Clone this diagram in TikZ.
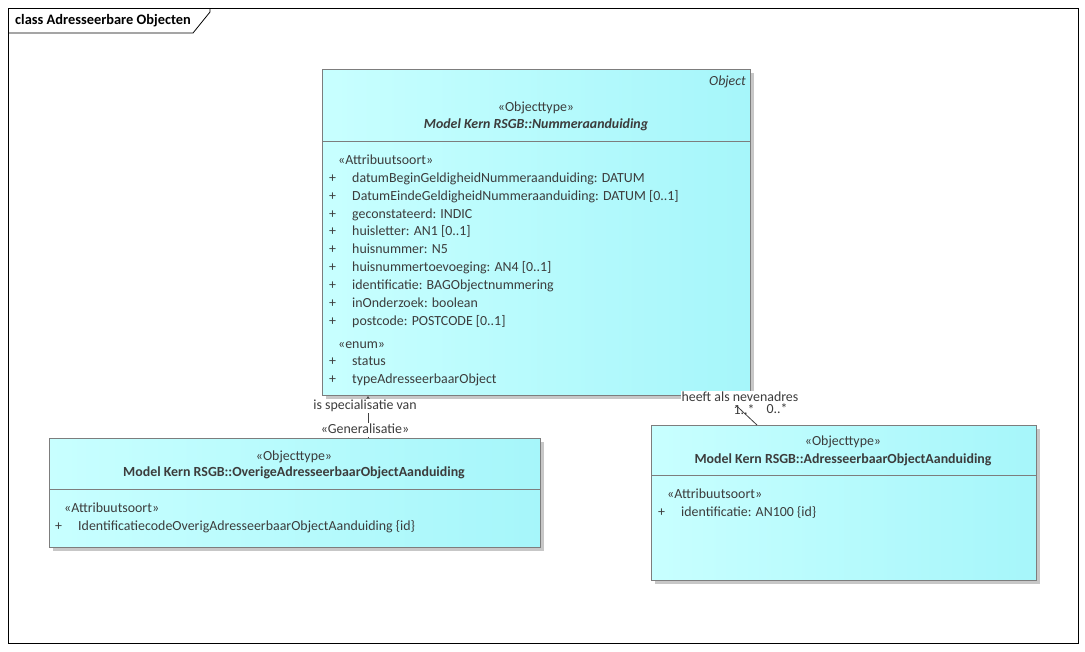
\documentclass[tikz,border=0pt]{standalone}
\usepackage{fontspec}
\setmainfont{Carlito}
\usetikzlibrary{arrows.meta,shadows}
\definecolor{boxL}{RGB}{200,255,255}
\definecolor{boxR}{RGB}{166,246,250}
\definecolor{bord}{RGB}{125,125,125}
\definecolor{txt}{RGB}{60,60,60}
\newcommand{\fs}{\fontsize{13.9}{16}\selectfont}
\tikzset{
  classbox/.style={rectangle, draw=bord, line width=1pt, left color=boxL, right color=boxR,
    inner sep=0pt, anchor=north west,
    drop shadow={shadow xshift=3pt, shadow yshift=-3pt, fill=black!40, opacity=0.55}},
  divline/.style={draw=bord, line width=1pt},
  lbl/.style={inner sep=0pt, text=txt, font=\fs, text height=9.5pt, text depth=3pt, yshift=-1.2pt},
  lw/.style={lbl, anchor=west},
  lc/.style={lbl, anchor=center},
  clabel/.style={inner sep=1pt, fill=white, text=txt, font=\fs, text height=9.5pt, text depth=2.5pt, yshift=-1pt},
  mult/.style={inner sep=0pt, text=txt, font=\fs, text height=7pt, text depth=0pt},
  conn/.style={draw=black!75, line width=0.8pt},
}
\begin{document}
\begin{tikzpicture}[x=1pt,y=-1pt]
\useasboundingbox (0,0) rectangle (1085,651);
\fill[white] (0,0) rectangle (1085,651);
% frame
\draw[line width=0.8pt] (8,8) rectangle (1078,643);
\draw[line width=0.8pt] (8,33) -- (193,33) -- (210,12) -- (210,8);
\node[lw, text=black, font=\fontsize{14.4}{16}\selectfont\bfseries] (title) at (15,20) {class Adresseerbare Objecten};

% Nummeraanduiding
\node[classbox, minimum width=428pt, minimum height=326pt] (num) at (322,69) {};
\draw[divline] (num.west |- 0,141) -- (num.east |- 0,141);
\node[lbl, anchor=east, font=\fs\itshape] (numo) at (746,81) {Object};
\node[lc] (nums) at (536,107) {«Objecttype»};
\node[lc, font=\fs\bfseries\itshape] (numn) at (536,124) {Model Kern RSGB::Nummeraanduiding};
\node[lw] (numa) at (338,160) {«Attribuutsoort»};
\foreach \y/\t in {178/datumBeginGeldigheidNummeraanduiding: DATUM,
  196/DatumEindeGeldigheidNummeraanduiding: DATUM [0..1],
  214/geconstateerd: INDIC,
  231/huisletter: AN1 [0..1],
  249/huisnummer: N5,
  267/huisnummertoevoeging: AN4 [0..1],
  285/identificatie: BAGObjectnummering,
  303/inOnderzoek: boolean,
  321/postcode: POSTCODE [0..1],
  361/status,
  379/typeAdresseerbaarObject}{
  \node[lw] at (329,\y) {+};
  \node[lw] at (352,\y) {\t};
}
\node[lw] (nume) at (338,344) {«enum»};

% Overige
\node[classbox, minimum width=491pt, minimum height=109pt] (ovr) at (49,438) {};
\draw[divline] (ovr.west |- 0,489) -- (ovr.east |- 0,489);
\node[lc] (ovrs) at (294,456) {«Objecttype»};
\node[lc, font=\fs\bfseries] (ovrn) at (294,472) {Model Kern RSGB::OverigeAdresseerbaarObjectAanduiding};
\node[lw] (ovra) at (64,508) {«Attribuutsoort»};
\node[lw] at (55,526) {+};
\node[lw] (ovr1) at (78,526) {IdentificatiecodeOverigAdresseerbaarObjectAanduiding {\{}id{\}}};

% AdresseerbaarObjectAanduiding
\node[classbox, minimum width=385pt, minimum height=155pt] (adr) at (651,425) {};
\draw[divline] (adr.west |- 0,475) -- (adr.east |- 0,475);
\node[lc] (adrs) at (843,441) {«Objecttype»};
\node[lc, font=\fs\bfseries] (adrn) at (843,459) {Model Kern RSGB::AdresseerbaarObjectAanduiding};
\node[lw] (adra) at (667,494) {«Attribuutsoort»};
\node[lw] at (658,512) {+};
\node[lw] (adr1) at (681,512) {identificatie: AN100 {\{}id{\}}};

% connectors
\draw[conn, -{Triangle[open, length=9pt, width=10pt]}] (ovr.north -| 368,0) -- (num.south -| 368,0);
\draw[conn] (num.south -| 726,0) -- (adr.north -| 757,0);

% connector labels
\node[clabel] (gl1) at (365,405) {is specialisatie van};
\node[clabel] (gl2) at (365,429) {«Generalisatie»};
\node[clabel] (al1) at (740,397) {heeft als nevenadres};
\node[mult] (al2) at (744,411) {1..*};
\node[mult] (al3) at (777,410) {0..*};
\end{tikzpicture}
\end{document}
